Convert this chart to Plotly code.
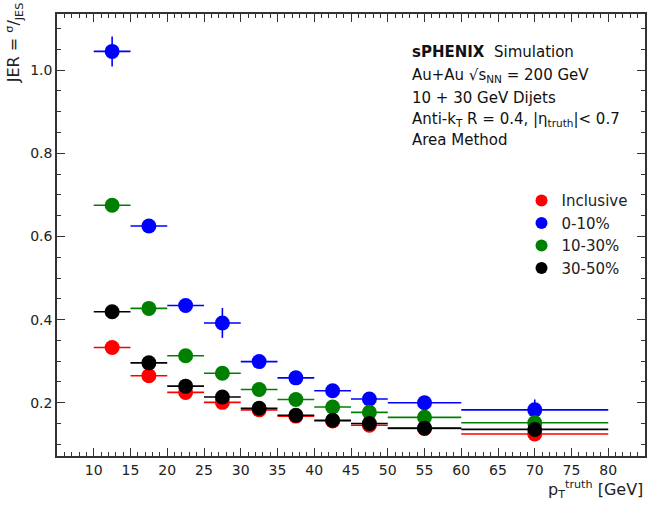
import plotly.graph_objects as go

bin_lo = [10, 15, 20, 25, 30, 35, 40, 45, 50, 60]
bin_hi = [15, 20, 25, 30, 35, 40, 45, 50, 60, 80]
centers = [(a + b) / 2 for a, b in zip(bin_lo, bin_hi)]
half_w = [(b - a) / 2 for a, b in zip(bin_lo, bin_hi)]

series_names = ["Inclusive", "0-10%", "10-30%", "30-50%"]
series_colors = ["#ff0000", "#0000ff", "#008000", "#000000"]

jer_inclusive = [0.333, 0.265, 0.225, 0.201, 0.183, 0.168, 0.156, 0.146, 0.138, 0.125]
jer_0_10 = [1.045, 0.625, 0.434, 0.392, 0.299, 0.260, 0.229, 0.209, 0.200, 0.183]
jer_10_30 = [0.675, 0.427, 0.313, 0.271, 0.232, 0.208, 0.190, 0.177, 0.165, 0.152]
jer_30_50 = [0.419, 0.296, 0.240, 0.214, 0.187, 0.170, 0.158, 0.150, 0.139, 0.136]

err_inclusive = [0.006, 0.004, 0.004, 0.004, 0.004, 0.004, 0.004, 0.004, 0.004, 0.006]
err_0_10 = [0.036, 0.010, 0.010, 0.036, 0.008, 0.008, 0.008, 0.008, 0.008, 0.025]
err_10_30 = [0.008, 0.006, 0.006, 0.006, 0.005, 0.005, 0.005, 0.005, 0.005, 0.008]
err_30_50 = [0.006, 0.005, 0.005, 0.005, 0.004, 0.004, 0.004, 0.004, 0.004, 0.008]

values = [jer_inclusive, jer_0_10, jer_10_30, jer_30_50]
errors = [err_inclusive, err_0_10, err_10_30, err_30_50]

fig = go.Figure()
for name, color, vals, errs in zip(series_names, series_colors, values, errors):
    fig.add_trace(go.Scatter(
        x=centers, y=vals, mode="markers", name=name,
        marker=dict(color=color, size=15, line=dict(width=0)),
        error_x=dict(type="data", array=half_w, color=color, thickness=1.6, width=0),
        error_y=dict(type="data", array=errs, color=color, thickness=1.6, width=0),
    ))

font_family = "DejaVu Sans"
axis_common = dict(
    showline=True, linecolor="#333333", linewidth=1.5, mirror="ticks",
    ticks="inside", tickcolor="#333333", tickwidth=1.3, ticklen=8,
    showgrid=False, zeroline=False,
    tickfont=dict(family=font_family, size=14, color="#222222"),
)

fig.update_layout(
    width=667, height=506,
    margin=dict(l=57, r=22, t=14, b=50),
    paper_bgcolor="white", plot_bgcolor="white",
    font=dict(family=font_family, size=14, color="#222222"),
    xaxis=dict(range=[5, 85],
               tickvals=list(range(10, 85, 5)),
               minor=dict(dtick=1, tick0=0, ticks="inside", ticklen=4, tickcolor="#333333", tickwidth=1.2),
               **axis_common),
    yaxis=dict(range=[0.072, 1.135], tickvals=[0.2, 0.4, 0.6, 0.8, 1.0],
               ticktext=["0.2", "0.4", "0.6", "0.8", "1.0"],
               minor=dict(dtick=0.05, tick0=0, ticks="inside", ticklen=4, tickcolor="#333333", tickwidth=1.2),
               **axis_common),
    showlegend=True,
    legend=dict(x=0.79, y=0.615, xanchor="left", yanchor="top",
                bgcolor="rgba(0,0,0,0)", font=dict(family=font_family, size=15),
                itemsizing="constant"),
)

lines = [
    "<b>sPHENIX</b>  Simulation",
    "Au+Au √s<sub>NN</sub> = 200 GeV",
    "10 + 30 GeV Dijets",
    "Anti-k<sub>T</sub> R = 0.4, |η<sub>truth</sub>|&lt; 0.7",
    "Area Method",
]
line_y_px = [52, 76, 98, 119, 140]
for txt, ypx in zip(lines, line_y_px):
    fig.add_annotation(
        xref="paper", yref="paper",
        x=(410 - 57) / 588, y=(456 - ypx) / 442,
        xanchor="left", yanchor="middle", showarrow=False,
        text=txt, align="left",
        font=dict(family=font_family, size=15, color="#111111"),
    )

fig.add_annotation(
    xref="paper", yref="paper", x=1.0, y=-(489 - 456) / 442,
    xanchor="right", yanchor="middle", showarrow=False,
    text="p<sub>T</sub><sup>truth</sup> [GeV]",
    font=dict(family=font_family, size=16, color="#222222"),
)
fig.add_annotation(
    xref="paper", yref="paper", x=(14 - 57) / 588, y=1.03,
    xanchor="center", yanchor="top", showarrow=False, textangle=-90,
    text="JER = <sup>σ</sup>/<sub>JES</sub>",
    font=dict(family=font_family, size=16, color="#222222"),
)

fig.write_html("out.html")
